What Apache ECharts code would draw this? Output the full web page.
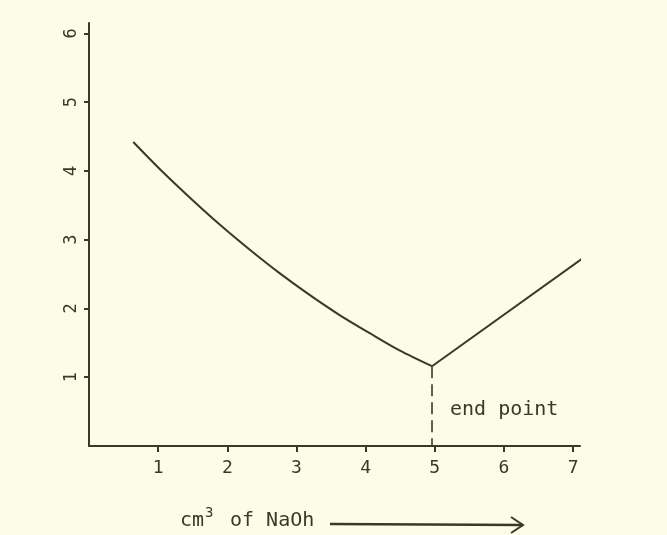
<!DOCTYPE html>
<html><head><meta charset="utf-8">
<script src="https://cdn.jsdelivr.net/npm/echarts@6/dist/echarts.min.js"></script>
<style>html,body{margin:0;padding:0;background:#fcfce8}#c{width:667px;height:535px}</style>
</head><body><div id="c"></div>
<script>
// titration curve (descending, smooth part)
const curveX = [0.64, 1.03, 1.46, 1.89, 2.33, 2.76, 3.20, 3.63, 4.06, 4.49, 4.96];
const curveY = [4.42, 4.02, 3.61, 3.22, 2.85, 2.51, 2.19, 1.90, 1.64, 1.39, 1.16];
// straight rising branch after the end point
const riseX = [4.96, 7.14];
const riseY = [1.16, 2.73];
// end point marker
const endX = 4.96;
const endY = 1.16;
const endLabel = 'end point';
// tick labels
const xTickLabels = [1, 2, 3, 4, 5, 6, 7];
const yTickLabels = [1, 2, 3, 4, 5, 6];
const xTitleMain = 'cm';
const xTitleSup = '3';
const xTitleRest = 'of NaOh';

const ink = '#3b3925';
const mono = '"DejaVu Sans Mono", monospace';
const chart = echarts.init(document.getElementById('c'), null, {renderer: 'canvas'});

const zip = (xs, ys) => xs.map((x, i) => [x, ys[i]]);

chart.setOption({
  backgroundColor: '#fcfce8',
  animation: false,
  grid: {left: 89, right: 87, top: 23, bottom: 89, containLabel: false},
  xAxis: {
    type: 'value', min: 0, max: 7.1, interval: 1,
    axisLine: {show: true, onZero: false, lineStyle: {color: ink, width: 2}},
    axisTick: {show: true, length: 6, customValues: xTickLabels, lineStyle: {color: ink, width: 2}},
    splitLine: {show: false},
    axisLabel: {
      color: ink, fontFamily: mono, fontSize: 18, margin: 13,
      customValues: xTickLabels,
      formatter: v => String(v)
    }
  },
  yAxis: {
    type: 'value', min: 0, max: 6.15, interval: 1,
    axisLine: {show: true, onZero: false, lineStyle: {color: ink, width: 2}},
    axisTick: {show: true, length: 5, customValues: yTickLabels, lineStyle: {color: ink, width: 2}},
    splitLine: {show: false},
    axisLabel: {
      color: ink, fontFamily: mono, fontSize: 17, margin: 9, rotate: 90,
      customValues: yTickLabels,
      formatter: v => String(v)
    }
  },
  series: [
    {
      type: 'line', data: zip(curveX, curveY), smooth: 0.3, symbol: 'none', clip: false,
      lineStyle: {color: ink, width: 2}
    },
    {
      type: 'line', data: zip(riseX, riseY), symbol: 'none', clip: false,
      lineStyle: {color: ink, width: 2}
    },
    {
      type: 'line', data: [[endX, endY], [endX, 0]], symbol: 'none',
      lineStyle: {color: ink, width: 1.6, type: [12, 6]}
    }
  ],
  graphic: [
    {type: 'text', x: 450, y: 410, style: {text: endLabel, fill: ink, font: '20px ' + mono, verticalAlign: 'middle', align: 'left'}},
    {type: 'text', x: 180, y: 521, style: {text: xTitleMain, fill: ink, font: '20px ' + mono, verticalAlign: 'middle', align: 'left'}},
    {type: 'text', x: 205, y: 513, style: {text: xTitleSup, fill: ink, font: '14px ' + mono, verticalAlign: 'middle', align: 'left'}},
    {type: 'text', x: 230, y: 521, style: {text: xTitleRest, fill: ink, font: '20px ' + mono, verticalAlign: 'middle', align: 'left'}},
    {type: 'polyline', shape: {points: [[330, 524], [523, 525]]}, style: {stroke: ink, lineWidth: 2.5, fill: null}},
    {type: 'polyline', shape: {points: [[511, 517], [523, 525], [511, 533]]}, style: {stroke: ink, lineWidth: 2, fill: null}}
  ]
});
</script>
</body></html>
